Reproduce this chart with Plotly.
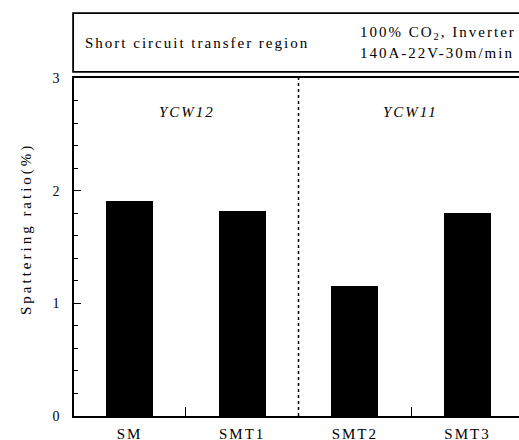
import plotly.graph_objects as go

categories = ["SM", "SMT1", "SMT2", "SMT3"]
spatter_ratio = [1.91, 1.82, 1.15, 1.80]
y_ticks = [0, 1, 2, 3]
group_labels = ["YCW12", "YCW11"]

FONT = "Liberation Serif"

def spaced(t, px=2):
    return f'<span style="letter-spacing:{px}px">{t}</span>'

xs = list(range(len(categories)))

fig = go.Figure()
fig.add_trace(go.Bar(
    x=xs, y=spatter_ratio, width=0.417,
    marker=dict(color="black", line=dict(width=0)),
    showlegend=False,
))

fig.update_layout(
    width=519, height=440,
    margin=dict(l=74, r=0, t=78, b=24),
    paper_bgcolor="white", plot_bgcolor="white",
    font=dict(family=FONT, size=15, color="black"),
    bargap=0,
)

fig.update_xaxes(
    range=[-0.4926, 3.457], automargin=False,
    tickmode="array", tickvals=xs, ticktext=[spaced(c) for c in categories],
    ticks="", showgrid=False, zeroline=False,
    showline=True, linecolor="black", linewidth=1.5, mirror=True,
    ticklabelstandoff=3,
    tickfont=dict(family=FONT, size=15),
    minor=dict(tickmode="array", tickvals=[0.5, 2.5], ticks="inside",
               ticklen=9, tickwidth=1.2, tickcolor="black", showgrid=False),
)

fig.update_yaxes(
    range=[0, 3], automargin=False,
    tickmode="array", tickvals=y_ticks, ticktext=[str(v) for v in y_ticks],
    ticks="inside", ticklen=7, tickwidth=1.2, tickcolor="black",
    showgrid=False, zeroline=False,
    showline=True, linecolor="black", linewidth=1.5, mirror=False,
    ticklabelstandoff=10,
    tickfont=dict(family=FONT, size=14),
    minor=dict(dtick=0.2, ticks="inside", ticklen=4, tickwidth=1,
               tickcolor="black", showgrid=False),
)

# dotted separator between groups
fig.add_shape(type="line", xref="x", yref="paper", x0=1.5, x1=1.5, y0=0, y1=1,
              line=dict(color="black", width=1.5, dash="dot"))

# header box
fig.add_shape(type="rect", xref="paper", yref="paper",
              x0=-0.002, x1=1.1, y0=1.018, y1=1.192,
              line=dict(color="black", width=1.8))

fig.add_annotation(xref="paper", yref="paper", x=0.0202, y=1.1036,
                   xanchor="left", yanchor="middle", showarrow=False,
                   text=spaced("Short circuit transfer region", 2),
                   font=dict(family=FONT, size=15))
fig.add_annotation(xref="paper", yref="paper", x=0.638, y=1.133,
                   xanchor="left", yanchor="middle", showarrow=False,
                   text=spaced("100% CO<sub>2</sub>, Inverter", 2),
                   font=dict(family=FONT, size=15))
fig.add_annotation(xref="paper", yref="paper", x=0.638, y=1.074,
                   xanchor="left", yanchor="middle", showarrow=False,
                   text=spaced("140A-22V-30m/min", 2),
                   font=dict(family=FONT, size=15))

# group labels
for gx, lab in zip([0.51, 2.49], group_labels):
    fig.add_annotation(xref="x", yref="paper", x=gx, y=0.899,
                       xanchor="center", yanchor="middle", showarrow=False,
                       text=f"<i>{spaced(lab, 2)}</i>",
                       font=dict(family=FONT, size=15))

# y-axis title
fig.add_annotation(xref="paper", yref="paper", x=-0.108, y=0.553,
                   xanchor="center", yanchor="middle", showarrow=False,
                   textangle=-90, text=spaced("Spattering ratio(%)", 3),
                   font=dict(family=FONT, size=15))

fig.write_html("out.html")
